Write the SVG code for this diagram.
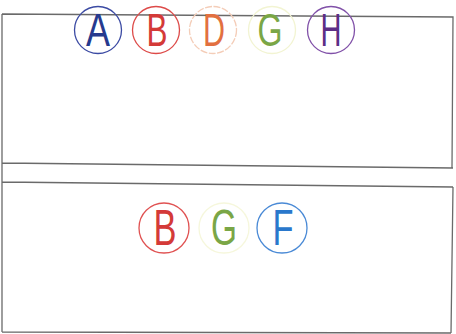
<svg xmlns="http://www.w3.org/2000/svg" width="456" height="334" viewBox="0 0 456 334">
<style>
.frame{fill:none;stroke:#6a6a6a;stroke-width:1.3}
.c{fill:none;stroke-width:1.3}
.t{font-family:"Liberation Sans",Arial,sans-serif;text-anchor:middle}
.top{font-size:46px}
.bot{font-size:50px}
</style>
<rect width="456" height="334" fill="#ffffff"/>
<g id="frame">
<path class="frame" d="M2,14 L453,17 L452,168 M2,163 L453,168 M2,182 L453,187 M2,332 L451,333 M2,14 L2,332 M453,187 L451,333"/>
</g>
<g id="top-row">
<g id="node-A"><circle class="c" cx="98" cy="30" r="23.5" stroke="#3b4aa3"/><text class="t top" x="98" y="46" fill="#263a8e" textLength="24" lengthAdjust="spacingAndGlyphs">A</text></g>
<g id="node-B1"><circle class="c" cx="156" cy="30" r="23.5" stroke="#dd4a48"/><text class="t top" x="157" y="46" fill="#d43a38" textLength="21" lengthAdjust="spacingAndGlyphs">B</text></g>
<g id="node-D"><circle class="c" cx="213" cy="30" r="23.5" stroke="#f4cdb8" stroke-dasharray="7 1.5"/><text class="t top" x="214" y="46" fill="#e27040" textLength="22" lengthAdjust="spacingAndGlyphs">D</text></g>
<g id="node-G1"><circle class="c" cx="272" cy="30" r="23.5" stroke="#f2f4d2"/><text class="t top" x="270" y="46" fill="#7aa646" textLength="25" lengthAdjust="spacingAndGlyphs">G</text></g>
<g id="node-H"><circle class="c" cx="331" cy="30" r="23.5" stroke="#8050a8"/><text class="t top" x="331" y="46" fill="#5c2e86" textLength="21" lengthAdjust="spacingAndGlyphs">H</text></g>
</g>
<g id="bottom-row">
<g id="node-B2"><circle class="c" cx="164" cy="228" r="25" stroke="#e05252"/><text class="t bot" x="165" y="245" fill="#d43a38" textLength="23" lengthAdjust="spacingAndGlyphs">B</text></g>
<g id="node-G2"><circle class="c" cx="224" cy="228" r="25" stroke="#f6f7dc"/><text class="t bot" x="224" y="245" fill="#7aa646" textLength="26" lengthAdjust="spacingAndGlyphs">G</text></g>
<g id="node-F"><circle class="c" cx="282" cy="228" r="25" stroke="#4a8ad6"/><text class="t bot" x="283" y="245" fill="#2a78cc" textLength="21" lengthAdjust="spacingAndGlyphs">F</text></g>
</g>
</svg>
